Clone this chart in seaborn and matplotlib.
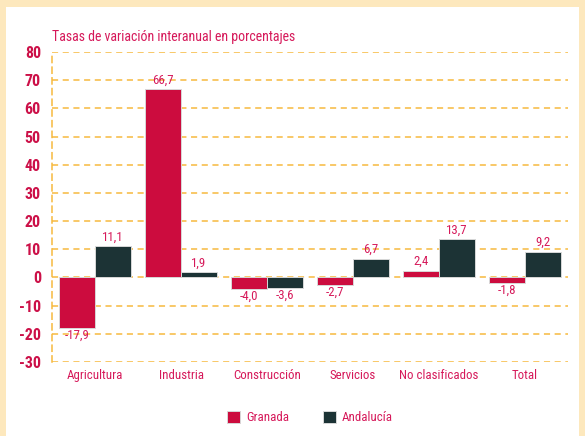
import pandas as pd
import matplotlib.pyplot as plt
import seaborn as sns
from matplotlib.patches import Rectangle

sectores = ['Agricultura', 'Industria', 'Construcción', 'Servicios', 'No clasificados', 'Total']
granada = [-17.9, 66.7, -4.0, -2.7, 2.4, -1.8]
andalucia = [11.1, 1.9, -3.6, 6.7, 13.7, 9.2]
y_ticks = [-30, -20, -10, 0, 10, 20, 30, 40, 50, 60, 70, 80]

df = pd.DataFrame({
    'sector': sectores * 2,
    'valor': granada + andalucia,
    'zona': ['Granada'] * len(sectores) + ['Andalucía'] * len(sectores),
})

sns.set_style('white')
plt.rcParams['font.family'] = ['Liberation Sans Narrow', 'Roboto Condensed', 'Noto Sans Condensed',
                               'Open Sans Condensed', 'Liberation Sans', 'DejaVu Sans']

red = '#CC0C3E'
dark = '#1C3335'
txt = '#D6195A'
grid = '#F7B93E'

fig = plt.figure(figsize=(5.85, 4.36), dpi=100)
fig.patch.set_facecolor('#FDE8BD')
fig.patches.append(Rectangle((6 / 585, 0), 573 / 585, 1 - 7 / 436, transform=fig.transFigure,
                             facecolor='white', edgecolor='none', zorder=-10))
ax = fig.add_axes([52 / 585, 1 - 362 / 436, 516 / 585, 310 / 436])
ax.set_facecolor('none')

sns.barplot(data=df, x='sector', y='valor', hue='zona', palette=[red, dark], saturation=1,
            width=0.84, edgecolor='#D8D8D8', linewidth=0.7, ax=ax, legend=True, zorder=3)

ax.set_ylim(-30, 80)
ax.set_xlim(-0.5, 5.5)
ax.set_yticks(y_ticks)
ax.set_yticklabels([str(t) for t in y_ticks], fontweight='bold', color='#CC1048', fontsize=11.5)
ax.tick_params(axis='y', length=0, pad=8)
ax.tick_params(axis='x', length=0, pad=5, labelcolor=txt, labelsize=9.3)
ax.set_xlabel('')
ax.set_ylabel('')

for t in y_ticks:
    ax.axhline(t, color=grid, lw=1.1, ls=(0, (4, 3)), zorder=1)
for s in ['top', 'right', 'bottom']:
    ax.spines[s].set_visible(False)
ax.spines['left'].set_color(grid)
ax.spines['left'].set_linestyle((0, (4, 3)))
ax.spines['left'].set_linewidth(1.1)

for cont in ax.containers:
    for bar in cont:
        h = bar.get_height()
        lab = f'{h:.1f}'.replace('.', ',')
        x = bar.get_x() + bar.get_width() / 2
        if h >= 0:
            ax.text(x, h + 0.9, lab, ha='center', va='bottom', color=txt, fontsize=9.3)
        else:
            ax.text(x, h - 0.4, lab, ha='center', va='top', color=txt, fontsize=9.3)

ax.text(0, 1.025, 'Tasas de variación interanual en porcentajes', transform=ax.transAxes,
        color=txt, fontsize=10, ha='left', va='bottom')

leg = ax.legend(loc='center', bbox_to_anchor=(0.5, -0.18), ncol=2, frameon=False,
                handlelength=1.05, handleheight=1.0, handletextpad=0.45, columnspacing=2.6,
                fontsize=9.3)
for t in leg.get_texts():
    t.set_color(txt)

fig.savefig('out.png', dpi=100)
